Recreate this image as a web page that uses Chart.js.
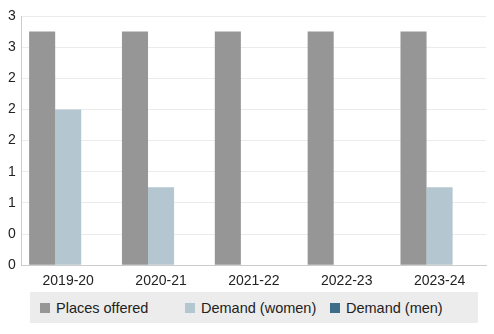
<!DOCTYPE html>
<html>
<head>
<meta charset="utf-8">
<script src="https://cdn.jsdelivr.net/npm/chart.js@4/dist/chart.umd.min.js"></script>
<style>
  html, body { margin: 0; padding: 0; background: #fff; }
  body { width: 494px; height: 334px; position: relative; font-family: "Liberation Sans", Arial, sans-serif; }
  #wrap { position: absolute; left: 0; top: 0; width: 494px; height: 300px; }
  #legend {
    position: absolute; left: 30px; top: 292px; width: 448px; height: 31px;
    background: #ececec; display: flex; align-items: center; box-sizing: border-box; padding-left: 10px;
    font-size: 14.5px; color: #222;
  }
  #legend .item { display: flex; align-items: center; width: 145px; white-space: nowrap; }
  #legend .box { width: 10px; height: 10px; margin-right: 6px; flex: none; }
</style>
</head>
<body>
<div id="wrap"><canvas id="placesChart"></canvas></div>
<div id="legend"></div>
<script>
// Places offered vs demand, per academic year
const years = ['2019-20', '2020-21', '2021-22', '2022-23', '2023-24'];
const placesOffered = [3, 3, 3, 3, 3];
const demandWomen = [2, 1, 0, 0, 1];
const demandMen = [0, 0, 0, 0, 0];
const yTickLabels = ['0', '0', '1', '1', '2', '2', '2', '3', '3'];

const seriesColors = ['#969696', '#b4c6d0', '#3e6d89'];

const ctx = document.getElementById('placesChart').getContext('2d');
const chart = new Chart(ctx, {
    type: 'bar',
    data: {
        labels: years,
        datasets: [
            { label: 'Places offered', data: placesOffered, backgroundColor: seriesColors[0] },
            { label: 'Demand (women)', data: demandWomen, backgroundColor: seriesColors[1] },
            { label: 'Demand (men)', data: demandMen, backgroundColor: seriesColors[2] }
        ]
    },
    options: {
        responsive: true,
        maintainAspectRatio: false,
        animation: false,
        datasets: {
            bar: { barPercentage: 1, categoryPercentage: 0.842 }
        },
        layout: { padding: { left: 2, right: 8, top: 16, bottom: 2 } },
        plugins: {
            legend: { display: false },
            tooltip: { enabled: false }
        },
        scales: {
            x: {
                grid: { display: false, drawTicks: false },
                border: { color: '#cccccc' },
                ticks: { color: '#222', font: { family: 'Liberation Sans', size: 14 }, padding: 8 }
            },
            y: {
                min: 0,
                max: 3.2,
                grid: { color: '#ebebeb', drawTicks: false },
                border: { color: '#cccccc' },
                ticks: {
                    stepSize: 0.4,
                    color: '#222',
                    padding: 6,
                    font: { family: 'Liberation Sans', size: 14 },
                    callback: function(value, index) {
                        return yTickLabels[index];
                    }
                }
            }
        }
    }
});

// Legend laid out in equal columns on a grey strip
const legendEl = document.getElementById('legend');
chart.data.datasets.forEach(ds => {
    const item = document.createElement('div');
    item.className = 'item';
    const box = document.createElement('span');
    box.className = 'box';
    box.style.background = ds.backgroundColor;
    const text = document.createElement('span');
    text.textContent = ds.label;
    item.appendChild(box);
    item.appendChild(text);
    legendEl.appendChild(item);
});
</script>
</body>
</html>
